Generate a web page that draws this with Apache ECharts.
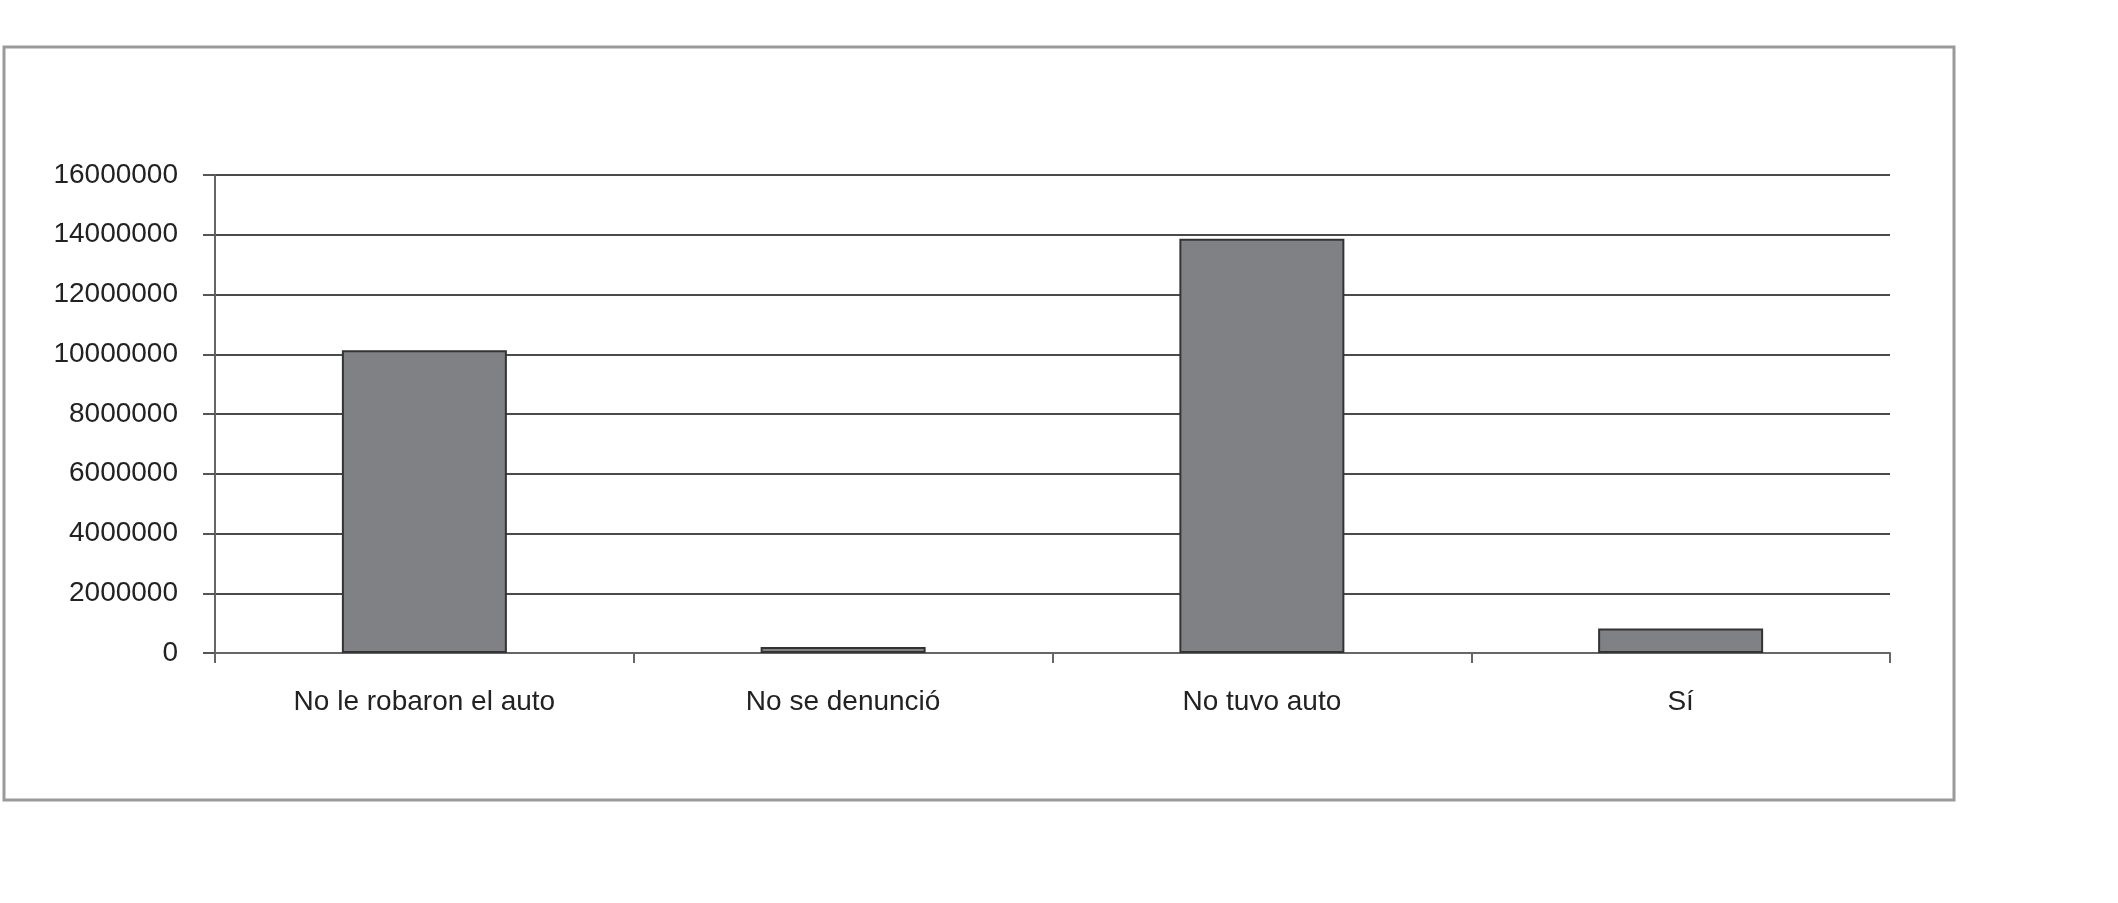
<!DOCTYPE html>
<html>
<head>
<meta charset="utf-8">
<script src="https://cdn.jsdelivr.net/npm/echarts@6/dist/echarts.min.js"></script>
<style>
html, body { margin: 0; padding: 0; background: #fff; }
#main { width: 2118px; height: 903px; }
</style>
</head>
<body>
<div id="main"></div>
<script>
// categorias y valores
var categorias = ['No le robaron el auto', 'No se denunció', 'No tuvo auto', 'Sí'];
var valores = [10130000, 200000, 13870000, 820000];
var ejeMin = 0;
var ejeMax = 16000000;
var ejeIntervalo = 2000000;

var chart = echarts.init(document.getElementById('main'));

var option = {
	backgroundColor: '#ffffff',
	animation: false,
	// marco exterior del grafico
	graphic: [{
		type: 'rect',
		shape: { x: 4, y: 47, width: 1950, height: 753 },
		style: { fill: 'none', stroke: '#9a9a9a', lineWidth: 3 },
		silent: true
	}],
	grid: {
		left: 215,
		right: 228,
		top: 175,
		bottom: 250
	},
	xAxis: {
		type: 'category',
		data: categorias,
		boundaryGap: true,
		axisLine: { show: true, lineStyle: { color: '#666', width: 2 } },
		axisTick: { show: true, length: 10, lineStyle: { color: '#666', width: 2 } },
		axisLabel: {
			margin: 35,
			fontFamily: 'Liberation Sans',
			fontSize: 28,
			color: '#222'
		}
	},
	yAxis: {
		type: 'value',
		min: ejeMin,
		max: ejeMax,
		interval: ejeIntervalo,
		axisLine: { show: true, lineStyle: { color: '#666', width: 2 } },
		axisTick: { show: true, length: 12, lineStyle: { color: '#555', width: 2 } },
		axisLabel: {
			margin: 37,
			fontFamily: 'Liberation Sans',
			fontSize: 28,
			color: '#222',
			formatter: function (v) { return String(v); }
		},
		splitLine: { show: true, lineStyle: { color: '#4a4a4a', width: 2 } }
	},
	series: [{
		type: 'bar',
		data: valores,
		barWidth: 165,
		itemStyle: {
			color: '#808185',
			borderColor: '#333',
			borderWidth: 2
		}
	}]
};

chart.setOption(option);
</script>
</body>
</html>
